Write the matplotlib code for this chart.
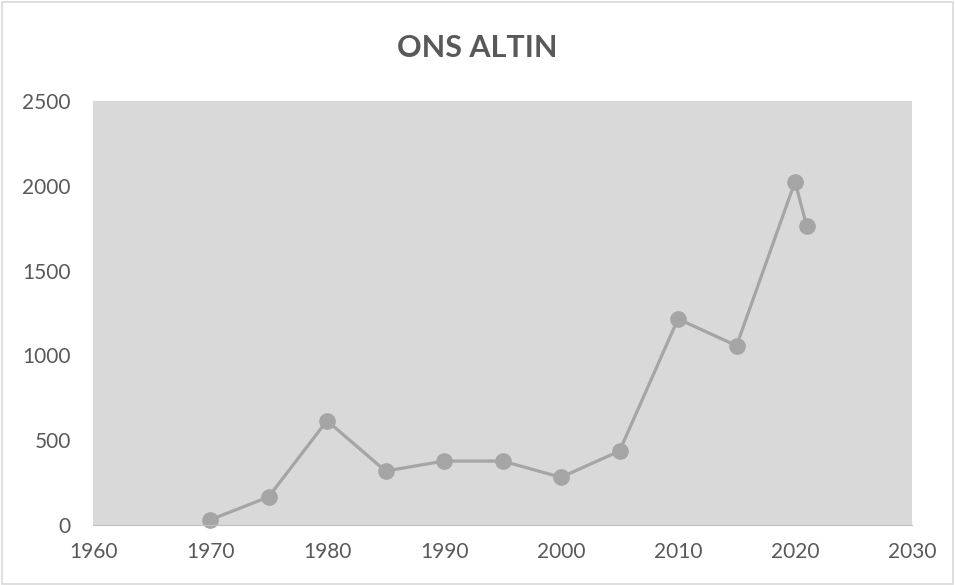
import matplotlib; matplotlib.use("Agg")
import matplotlib.pyplot as plt
from matplotlib.patches import Rectangle

years = [1970, 1975, 1980, 1985, 1990, 1995, 2000, 2005, 2010, 2015, 2020, 2021]
price = [30, 165, 615, 318, 377, 377, 281, 436, 1215, 1057, 2024, 1763]
xticks = [1960, 1970, 1980, 1990, 2000, 2010, 2020, 2030]
yticks = [0, 500, 1000, 1500, 2000, 2500]

TXT = "#595959"
plt.rcParams['font.family'] = ['Lato', 'DejaVu Sans']

fig = plt.figure(figsize=(9.55, 5.85), dpi=100)
fig.patches.append(Rectangle((0.002, 0.002), 0.996, 0.994, transform=fig.transFigure,
                             fill=False, edgecolor="#D9D9D9", linewidth=1.2))
ax = fig.add_axes([0.0974, 0.1026, 0.8576, 0.7248])
ax.set_facecolor("#D9D9D9")
ax.plot(years, price, color="#A5A5A5", lw=2.3, marker="o", ms=11, clip_on=False)
ax.set_xlim(1960, 2030); ax.set_ylim(0, 2500)
ax.set_xticks(xticks); ax.set_yticks(yticks)
ax.tick_params(length=0, labelsize=15, colors=TXT)
ax.tick_params(axis="x", pad=12)
ax.tick_params(axis="y", pad=16)
for s in ["top", "right", "left"]: ax.spines[s].set_visible(False)
ax.spines["bottom"].set_color("#BFBFBF")
fig.text(0.5, 0.918, "ONS ALTIN", ha="center", va="center", fontsize=22, fontweight="bold", color=TXT)
fig.savefig("out.png", dpi=100)
